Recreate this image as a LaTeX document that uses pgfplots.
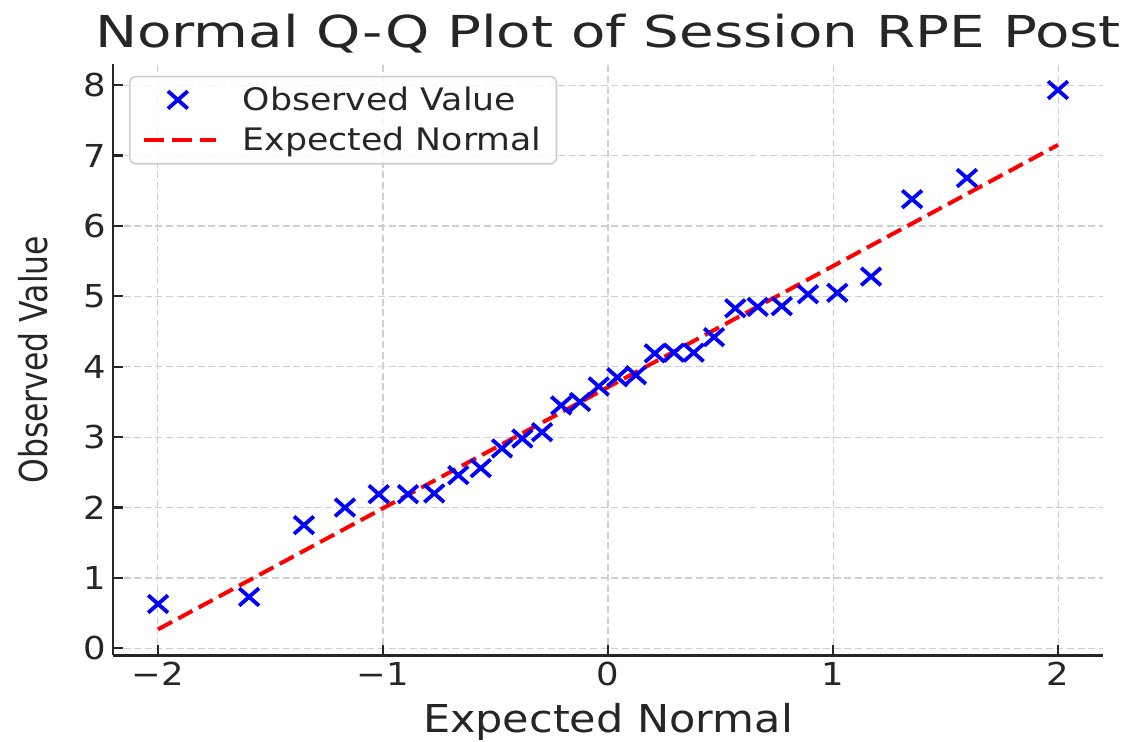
\documentclass[border=0pt]{standalone}
\usepackage{fontspec}
\setmainfont{DejaVu Sans}[FakeStretch=1.12]
\newfontfamily\titlefont{DejaVu Sans}[FakeStretch=1.28]
\newfontfamily\ylabfont{DejaVu Sans}[FakeStretch=0.82]
\usepackage{pgfplots}
\usepackage{pgfplotstable}
\pgfplotsset{compat=1.18}
\definecolor{txt}{HTML}{262626}
\definecolor{gridc}{HTML}{CFCFCF}
\definecolor{legc}{HTML}{CCCCCC}

\pgfplotsset{
  markleg/.style={legend image code/.code={\draw[mark repeat=2,mark phase=2,##1]
    plot coordinates {(0pt,0pt) (17pt,0pt) (36pt,0pt)};}},
  lineleg/.style={legend image code/.code={\draw[##1, dash pattern=on 10pt off 4pt]
    (0pt,0pt) -- (36pt,0pt);}},
}

% sorted observations against theoretical normal quantiles (n = 30)
\pgfplotstableread{
q        v
-1.9988  0.63
-1.5945  0.73
-1.3509  1.75
-1.1686  2.00
-1.0186  2.19
-0.8884  2.19
-0.7720  2.20
-0.6650  2.46
-0.5653  2.56
-0.4709  2.84
-0.3805  2.98
-0.2929  3.07
-0.2078  3.45
-0.1242  3.50
-0.0413  3.72
 0.0413  3.85
 0.1242  3.88
 0.2078  4.19
 0.2929  4.20
 0.3805  4.20
 0.4709  4.42
 0.5653  4.83
 0.6650  4.85
 0.7720  4.86
 0.8884  5.03
 1.0186  5.05
 1.1686  5.28
 1.3509  6.38
 1.5945  6.68
 1.9988  7.93
}\qq

\begin{document}
\begin{tikzpicture}
\useasboundingbox (-56.5pt,-43.3pt) rectangle (511pt,327.7pt);
\begin{axis}[
  at={(0pt,0pt)}, anchor=south west,
  scale only axis, width=495pt, height=295.7pt,
  xmin=-2.199, xmax=2.199, ymin=-0.1, ymax=8.3,
  axis x line*=bottom, axis y line*=left,
  axis line style={-, txt, line width=1.4pt},
  xtick={-2,-1,0,1,2}, xticklabels={−2,−1,0,1,2},
  ytick={0,1,2,3,4,5,6,7,8},
  tick align=inside, major tick length=5pt,
  tick style={txt, line width=1.1pt},
  ticklabel style={font=\fontsize{15.8}{18}\selectfont, text=txt},
  /pgf/number format/assume math mode=true,
  grid=major,
  major grid style={gridc, line width=0.6pt, dash pattern=on 3.5pt off 1.8pt},
  title={Normal Q-Q Plot of Session RPE Post},
  title style={font=\titlefont\fontsize{22}{26}\selectfont, text=txt,
    at={(axis description cs:0.5,1.008)}, anchor=base},
  xlabel={Expected Normal},
  xlabel style={font=\fontsize{19.2}{23}\selectfont, text=txt,
    at={(axis description cs:0.5,-0.1312)}, anchor=base},
  ylabel={Observed Value},
  ylabel style={font=\ylabfont\fontsize{19.2}{23}\selectfont, text=txt,
    at={(axis description cs:-0.0662,0.5)}, anchor=base},
  legend cell align=left,
  legend style={at={(axis description cs:0.0162,0.98)}, anchor=north west,
    draw=legc, line width=0.8pt, rounded corners=3pt,
    fill=white, fill opacity=0.8, text opacity=1,
    font=\fontsize{15.5}{18}\selectfont, text=txt,
    inner xsep=6pt, inner ysep=3.5pt, row sep=4pt,
    nodes={inner sep=1.5pt},
    /tikz/every odd column/.append style={column sep=11pt}},
]
\addplot[only marks, mark=x, color=blue, mark size=7pt,
  mark options={line width=1.9pt, yscale=0.88}, markleg]
  table[x=q, y=v] {\qq};
\addlegendentry{Observed Value}
\addplot[red, line width=2pt, dash pattern=on 8pt off 3.5pt, lineleg]
  coordinates {(-1.9988,0.27) (1.9988,7.15)};
\addlegendentry{Expected Normal}
\end{axis}
\end{tikzpicture}
\end{document}
